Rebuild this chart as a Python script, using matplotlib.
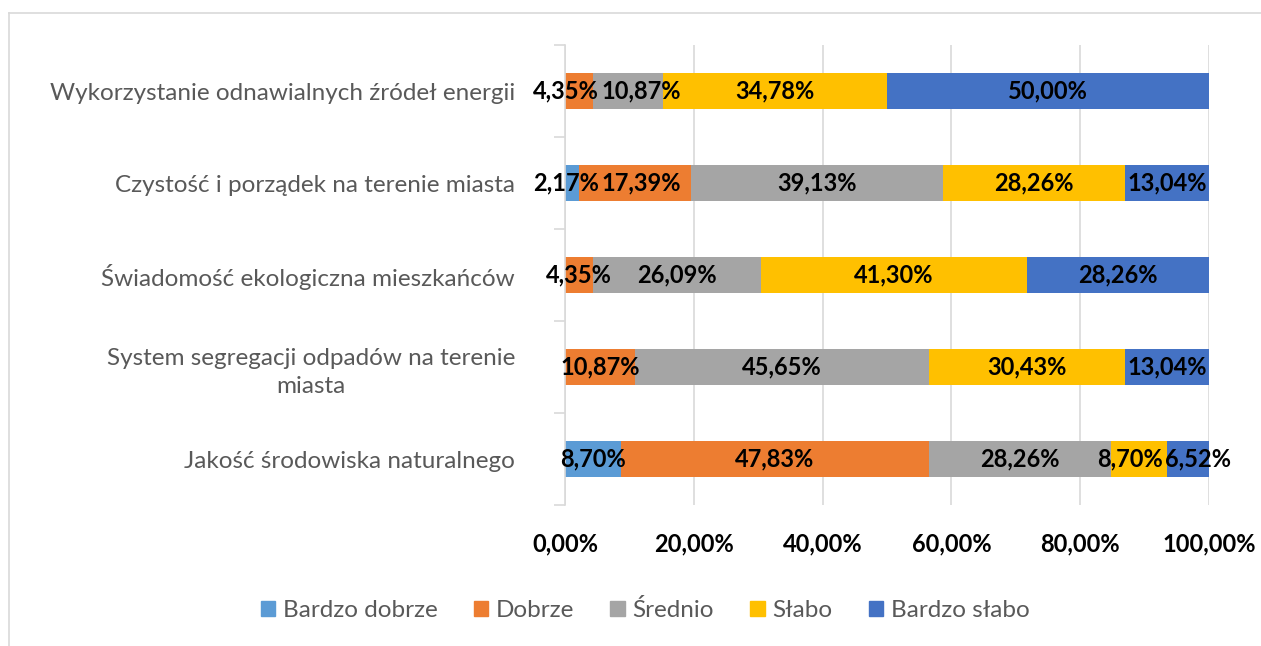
import numpy as np
import matplotlib.pyplot as plt
from matplotlib.patches import Rectangle
from matplotlib.lines import Line2D

plt.rcParams['font.family'] = ['Lato', 'DejaVu Sans']

# dane (od dołu do góry)
kategorie = ['Jakość środowiska naturalnego',
             'System segregacji odpadów na terenie\nmiasta',
             'Świadomość ekologiczna mieszkańców',
             'Czystość i porządek na terenie miasta',
             'Wykorzystanie odnawialnych źródeł energii']
serie = ['Bardzo dobrze', 'Dobrze', 'Średnio', 'Słabo', 'Bardzo słabo']
bardzo_dobrze = [8.70, 0.00, 0.00, 2.17, 0.00]
dobrze = [47.83, 10.87, 4.35, 17.39, 4.35]
srednio = [28.26, 45.65, 26.09, 39.13, 10.87]
slabo = [8.70, 30.43, 41.30, 28.26, 34.78]
bardzo_slabo = [6.52, 13.04, 28.26, 13.04, 50.00]
kolory = ['#5B9BD5', '#ED7D31', '#A5A5A5', '#FFC000', '#4472C4']
ticki = [0, 20, 40, 60, 80, 100]

dane = [bardzo_dobrze, dobrze, srednio, slabo, bardzo_slabo]

fig = plt.figure(figsize=(12.61, 6.46), dpi=100)
# ramka wykresu
fig.add_artist(Line2D([9/1261, 9/1261], [0, 1-13/646], color='#D9D9D9', lw=1.2, transform=fig.transFigure))
fig.add_artist(Line2D([9/1261, 1], [1-13/646, 1-13/646], color='#D9D9D9', lw=1.2, transform=fig.transFigure))

ax = fig.add_axes([565/1261, 1-505/646, (1209-565)/1261, 460/646])
y = np.arange(len(kategorie))
lewo = np.zeros(len(kategorie))
etykiety = {i: [] for i in y}
for nazwa, wart, kol in zip(serie, dane, kolory):
    wart = np.array(wart)
    ax.barh(y, wart, left=lewo, height=0.4, color=kol, label=nazwa, zorder=3)
    for i, v in enumerate(wart):
        if v > 0:
            t = ax.text(lewo[i] + v/2, y[i], f'{v:.2f}%'.replace('.', ','),
                        ha='center', va='center', fontsize=17, fontweight='bold',
                        color='black', zorder=5)
            etykiety[i].append(t)
    lewo += wart

ax.set_xlim(0, 100)
ax.set_ylim(-0.5, len(kategorie)-0.5)
ax.set_xticks(ticki)
ax.set_xticklabels([f'{t:.2f}%'.replace('.', ',') for t in ticki], fontsize=17, fontweight='bold')
ax.tick_params(axis='x', length=0, pad=20)
ax.set_yticks(y)
ax.set_yticklabels(kategorie, fontsize=17.5, color='#595959', linespacing=1.4)
ax.tick_params(axis='y', which='major', length=0, pad=36)
ax.set_yticks(np.arange(-0.5, len(kategorie)), minor=True)
ax.tick_params(axis='y', which='minor', length=8, color='#D9D9D9', width=1.2)
for lab in ax.get_yticklabels():
    lab.set_multialignment('center')
ax.grid(axis='x', color='#D9D9D9', lw=1.2, zorder=0)
for s in ['top', 'right', 'bottom']:
    ax.spines[s].set_visible(False)
ax.spines['left'].set_color('#D9D9D9')
ax.spines['left'].set_linewidth(1.2)
ax.spines['left'].set_zorder(4)

# rozsuwanie nachodzących etykiet (jak w Excelu)
fig.canvas.draw()
r = fig.canvas.get_renderer()
px_na_dane = 100 / ax.get_window_extent(r).width
for i in y:
    lst = etykiety[i]
    for _ in range(20):
        ruch = False
        for a, b in zip(lst[:-1], lst[1:]):
            ea = a.get_window_extent(r)
            eb = b.get_window_extent(r)
            nakl = ea.x1 + 2 - eb.x0
            if nakl > 0.5:
                d = nakl / 2 * px_na_dane
                a.set_x(a.get_position()[0] - d)
                b.set_x(b.get_position()[0] + d)
                ruch = True
        if not ruch:
            break

uchwyty = [Rectangle((0, 0), 1, 1, color=k) for k in kolory]
leg = fig.legend(uchwyty, serie, loc='center', bbox_to_anchor=(645/1261, 1-610/646),
                 ncol=5, frameon=False, fontsize=17.5, handlelength=0.6, handleheight=0.6,
                 handletextpad=0.3, columnspacing=1.5)
for t in leg.get_texts():
    t.set_color('#595959')

fig.savefig('out.png', dpi=100)
